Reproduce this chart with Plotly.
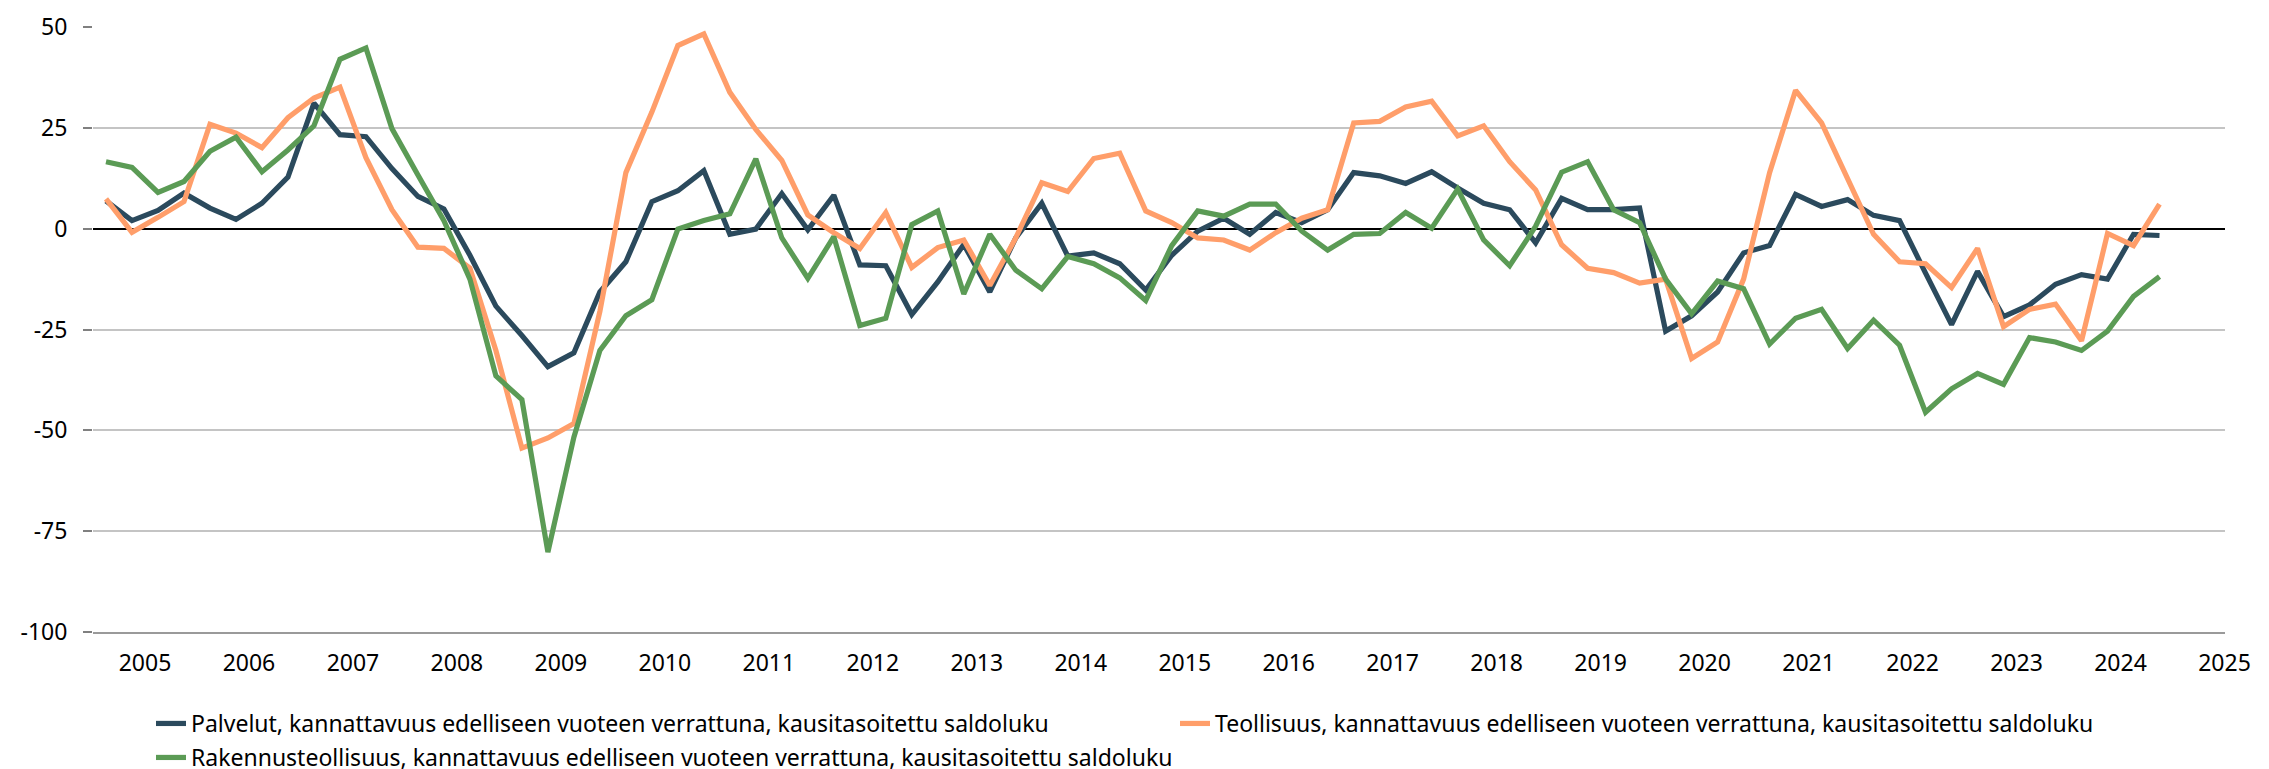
import plotly.graph_objects as go

# Quarterly observations 2005Q1 .. 2024Q4
quarters = [f"{y}Q{q}" for y in range(2005, 2025) for q in range(1, 5)]
years = list(range(2005, 2026))

palvelut = [6.9, 2.0, 4.5, 8.8, 5.1, 2.3, 6.3, 12.8, 31.1, 23.3, 22.8, 14.9,
            8.0, 4.9, -6.6, -19.2, -26.5, -34.2, -30.8, -15.7, -8.2, 6.7, 9.4, 14.4,
            -1.4, -0.1, 8.7, -0.3, 8.3, -9.0, -9.2, -21.3, -13.2, -3.9, -15.7, -2.3,
            6.3, -6.8, -6.0, -8.7, -15.2, -6.6, -0.6, 2.6, -1.4, 4.0, 1.5, 4.7,
            13.9, 13.1, 11.2, 14.1, 10.1, 6.3, 4.7, -3.5, 7.5, 4.7, 4.7, 5.1,
            -25.4, -21.6, -15.7, -6.0, -4.2, 8.5, 5.5, 7.2, 3.3, 2.0, -11.0, -23.8,
            -10.6, -21.8, -18.9, -13.8, -11.4, -12.5, -1.4, -1.7]

teollisuus = [7.4, -0.9, 2.8, 6.7, 25.9, 23.7, 20.1, 27.5, 32.4, 35.1, 17.6, 4.7,
              -4.6, -4.9, -9.8, -30.2, -54.4, -51.9, -48.3, -20.5, 13.9, 28.9, 45.4, 48.3,
              33.8, 24.6, 16.9, 3.4, -1.0, -4.9, 4.0, -9.6, -4.7, -2.8, -14.1, -2.3,
              11.4, 9.2, 17.4, 18.7, 4.4, 1.5, -2.3, -2.8, -5.3, -1.0, 2.6, 4.7,
              26.2, 26.6, 30.2, 31.6, 23.0, 25.5, 16.6, 9.6, -4.0, -9.8, -10.9, -13.5,
              -12.5, -32.2, -28.1, -12.5, 13.9, 34.3, 26.2, 12.3, -1.4, -8.2, -8.7, -14.6,
              -4.9, -24.3, -20.0, -18.7, -27.8, -1.2, -4.2, 6.1]

rakennus = [16.6, 15.2, 9.0, 11.7, 19.2, 22.7, 14.1, 19.5, 25.5, 42.0, 44.8, 24.8,
            13.3, 2.0, -12.5, -36.5, -42.4, -80.2, -51.7, -30.2, -21.6, -17.6, -0.1, 2.0,
            3.7, 17.3, -2.3, -12.3, -2.0, -24.0, -22.2, 1.0, 4.4, -16.2, -1.4, -10.3,
            -14.9, -6.9, -8.7, -12.2, -17.8, -4.2, 4.4, 3.1, 6.1, 6.1, -0.6, -5.3,
            -1.4, -1.2, 4.0, 0.1, 9.8, -2.8, -9.2, 0.6, 14.0, 16.6, 4.7, 1.5,
            -12.5, -21.1, -13.0, -14.9, -28.6, -22.2, -20.0, -29.7, -22.7, -28.9, -45.5, -39.7,
            -35.9, -38.6, -27.0, -28.1, -30.2, -25.4, -16.8, -11.9]

names = [
    "Palvelut, kannattavuus edelliseen vuoteen verrattuna, kausitasoitettu saldoluku",
    "Teollisuus, kannattavuus edelliseen vuoteen verrattuna, kausitasoitettu saldoluku",
    "Rakennusteollisuus, kannattavuus edelliseen vuoteen verrattuna, kausitasoitettu saldoluku",
]
colors = ["#2b4a5d", "#ff9e6a", "#5b9b55"]
series = [palvelut, teollisuus, rakennus]
legend_ids = ["legend", "legend2", "legend3"]

x = list(range(len(quarters)))
font = "Noto Sans"

fig = go.Figure()
for name, vals, col, lid in zip(names, series, colors, legend_ids):
    fig.add_trace(go.Scatter(x=x, y=vals, name=name, mode="lines",
                             line=dict(color=col, width=5.2), text=quarters,
                             legend=lid))

tickvals = [1.5 + 4 * k for k in range(len(years))]

L, R, T, B = 85, 52, 19, 145
W, H = 2269, 769
pw = W - L - R


def leg(left_px, top_px):
    return dict(orientation="v", xref="paper", x=(left_px - L) / pw, xanchor="left",
                yref="container", y=(H - top_px) / H, yanchor="top",
                font=dict(size=23, color="#000000"), itemwidth=30,
                bgcolor="rgba(0,0,0,0)")


fig.update_layout(
    width=W, height=H,
    paper_bgcolor="white", plot_bgcolor="white",
    margin=dict(l=L, r=R, t=T, b=B, autoexpand=False),
    font=dict(family=font, size=23, color="#000000"),
    xaxis=dict(range=[-0.5, 81.52], tickvals=tickvals, ticktext=[str(y) for y in years],
               showgrid=False, zeroline=False, showline=True, linecolor="#9a9a9a",
               linewidth=1.5, ticks="", automargin=False,
               ticklabelstandoff=10, tickfont=dict(size=23)),
    yaxis=dict(range=[-100, 50], tickvals=[50, 25, 0, -25, -50, -75, -100],
               ticktext=["50", "25", "0", "-25", "-50", "-75", "-100"],
               showgrid=True, gridcolor="#c4c4c4", gridwidth=1.5,
               zeroline=True, zerolinecolor="#000000", zerolinewidth=2,
               ticks="outside", ticklen=9, tickcolor="#808080", tickwidth=1.5,
               automargin=False, ticklabelstandoff=11, tickfont=dict(size=23)),
    legend=leg(143, 694),
    legend2=leg(1167, 694),
    legend3=leg(143, 728),
    showlegend=True,
)

fig.write_html("out.html")
